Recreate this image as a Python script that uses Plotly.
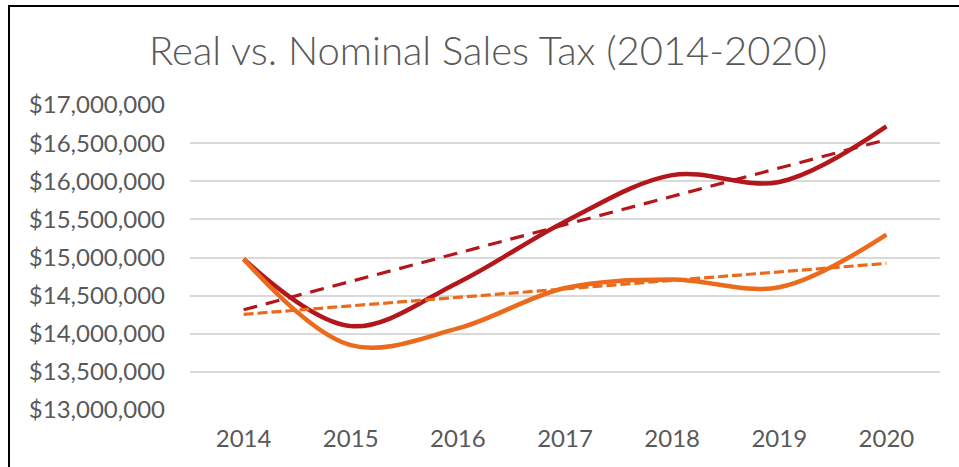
import numpy as np
import plotly.graph_objects as go

years = ["2014", "2015", "2016", "2017", "2018", "2019", "2020"]
nominal = [14980000, 14100000, 14670000, 15470000, 16080000, 15990000, 16720000]
real = [14980000, 13850000, 14070000, 14600000, 14710000, 14610000, 15300000]
y_ticks = [13000000, 13500000, 14000000, 14500000, 15000000, 15500000, 16000000, 16500000, 17000000]
y_labels = ["${:,.0f}".format(v) for v in y_ticks]

RED = "#B3171B"
ORANGE = "#EC6A1B"
GRAY = "#595959"
FONT = "Lato"

xi = np.arange(len(years))
nom_fit = np.polyval(np.polyfit(xi, nominal, 1), xi)
real_fit = np.polyval(np.polyfit(xi, real, 1), xi)

fig = go.Figure()
fig.add_trace(go.Scatter(x=years, y=nominal, mode="lines", name="Nominal",
                         line=dict(color=RED, width=4.5, shape="spline", smoothing=1.0)))
fig.add_trace(go.Scatter(x=years, y=real, mode="lines", name="Real",
                         line=dict(color=ORANGE, width=4.5, shape="spline", smoothing=1.0)))
fig.add_trace(go.Scatter(x=years, y=nom_fit, mode="lines", name="Nominal trend",
                         line=dict(color=RED, width=3.2, dash="14px,9px")))
fig.add_trace(go.Scatter(x=years, y=real_fit, mode="lines", name="Real trend",
                         line=dict(color=ORANGE, width=3.2, dash="10px,4px")))

L, R, T, B = 190, 19, 105, 57
W, H = 959, 467
pw, ph = W - L - R, H - T - B
bx = (9 - L) / pw
by = 1 + (T - 6) / ph

fig.update_layout(
    width=W, height=H,
    margin=dict(l=L, r=R, t=T, b=B, pad=0),
    paper_bgcolor="white", plot_bgcolor="white",
    showlegend=False,
    title=dict(text="Real vs. Nominal Sales Tax (2014-2020)", x=0.509, xanchor="center",
               y=1 - 51 / H, yanchor="middle",
               font=dict(family=FONT, size=40, color=GRAY, weight=300)),
    font=dict(family=FONT, color=GRAY),
    xaxis=dict(type="category", range=[-0.5, 6.5], showgrid=False, zeroline=False,
               showline=False, ticks="", tickfont=dict(size=24, color=GRAY, weight=400),
               ticklabelstandoff=12, fixedrange=True),
    yaxis=dict(range=[13000000, 17000000], tickvals=y_ticks, ticktext=y_labels,
               showgrid=True, gridcolor="#D9D9D9", gridwidth=2, zeroline=False,
               showline=False, ticks="", tickfont=dict(size=24, color=GRAY, weight=400),
               ticklabelstandoff=24, fixedrange=True),
    shapes=[dict(type="path", xref="paper", yref="paper",
                 path=f"M {bx} -0.5 L {bx} {by} L 1.5 {by}",
                 line=dict(color="black", width=2))],
)

fig.write_html("out.html", config={"displayModeBar": False},
               post_script="document.body.style.margin='0';document.body.style.overflow='hidden';")
